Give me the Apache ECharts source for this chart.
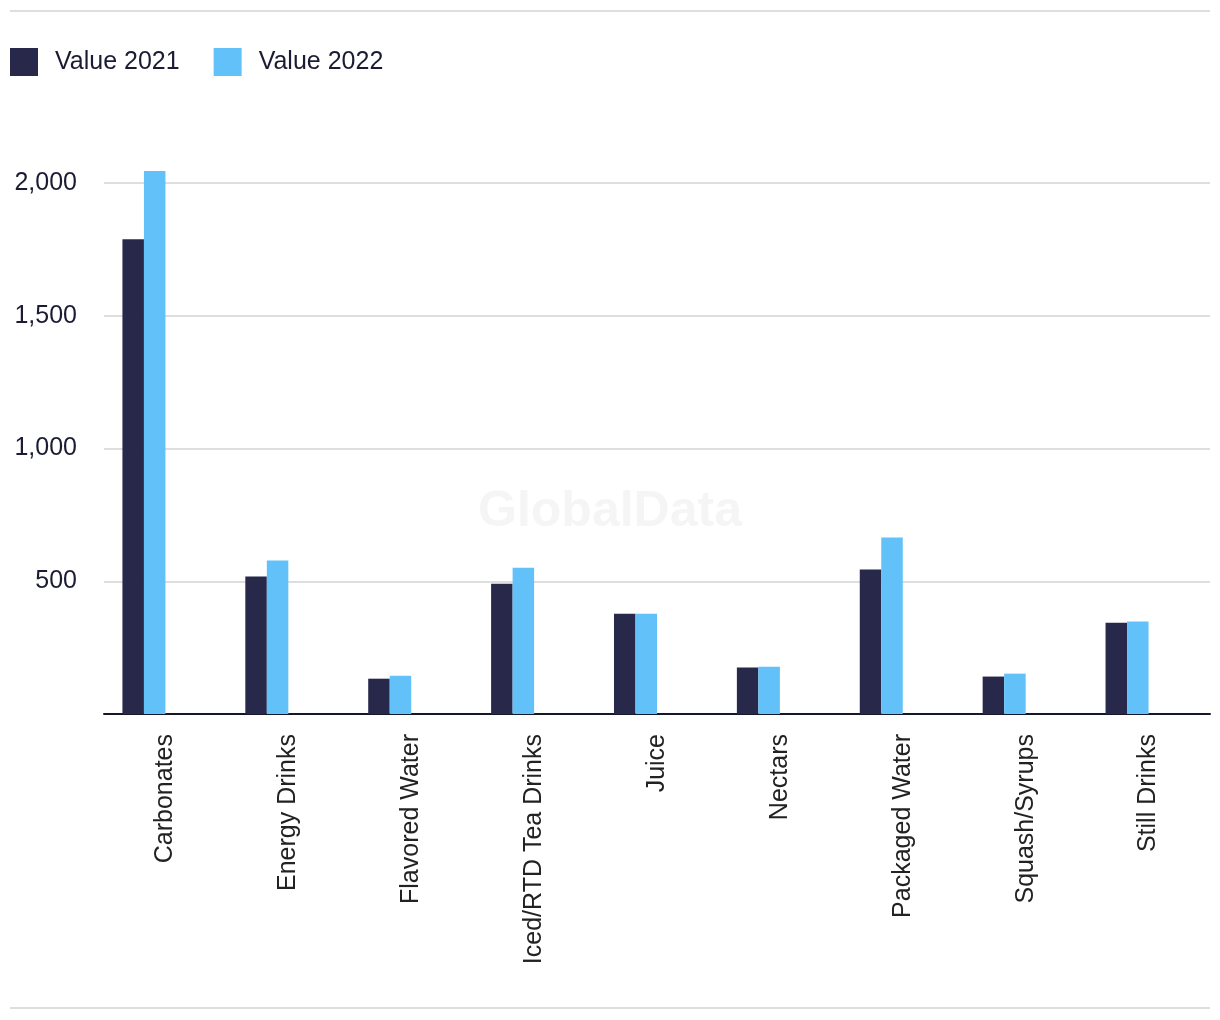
<!DOCTYPE html>
<html>
<head>
<meta charset="utf-8">
<script src="https://cdn.jsdelivr.net/npm/echarts@6/dist/echarts.min.js"></script>
<style>
html,body{margin:0;padding:0;background:#fff;}
#chart{width:1220px;height:1020px;}
</style>
</head>
<body>
<div id="chart"></div>
<script>
const categories = ["Carbonates","Energy Drinks","Flavored Water","Iced/RTD Tea Drinks","Juice","Nectars","Packaged Water","Squash/Syrups","Still Drinks"];
const value2021 = [1788, 518, 133, 491, 378, 175, 544, 141, 344];
const value2022 = [2045, 578, 144, 551, 378, 178, 665, 152, 348];
const placeholder = [];
const yTicks = [0, 500, 1000, 1500, 2000];

const chart = echarts.init(document.getElementById('chart'), null, {renderer:'canvas'});
const FONT = 'Liberation Sans';
chart.setOption({
  animation: false,
  backgroundColor: '#ffffff',
  graphic: [
    {type:'rect', shape:{x:10,y:10,width:1200,height:2}, style:{fill:'#dedede'}},
    {type:'rect', shape:{x:10,y:1007,width:1200,height:2}, style:{fill:'#dedede'}},
    {type:'text', left:'center', top:487, z:-1, style:{text:'GlobalData', font:'bold 50px "Liberation Sans"', fill:'#f5f5f5', x:610}}
  ],
  legend: {
    data: ['Value 2021','Value 2022'],
    left: 10, top: 48, padding: 0,
    itemWidth: 28, itemHeight: 28, itemGap: 34,
    icon: 'rect',
    textStyle: {fontFamily: FONT, fontSize: 25, color: '#1b1c33', padding:[0,0,0,12]}
  },
  grid: {left: 104, right: 10, top: 183, bottom: 306, containLabel: false},
  xAxis: {
    type: 'category',
    data: categories,
    axisLine: {show: true, lineStyle: {color: '#15172b', width: 2}},
    axisTick: {show: false},
    axisLabel: {rotate: 90, margin: 20, fontFamily: FONT, fontSize: 25, color: '#222222'}
  },
  yAxis: {
    type: 'value',
    min: yTicks[0], max: yTicks[yTicks.length-1], interval: 500,
    axisLine: {show: false},
    axisTick: {show: false},
    splitLine: {show: true, lineStyle: {color: '#dedede', width: 2}},
    axisLabel: {margin: 27, fontFamily: FONT, fontSize: 25, color: '#1b1c33',
      formatter: v => v === 0 ? '' : v.toLocaleString('en-US')}
  },
  series: [
    {name:'Value 2021', type:'bar', data:value2021, itemStyle:{color:'#27284a'}, barGap:'0%', barCategoryGap:'30%', clip:false},
    {name:'Value 2022', type:'bar', data:value2022, itemStyle:{color:'#62c1f9'}, clip:false},
    {name:'pad1', type:'bar', data:placeholder},
    {name:'pad2', type:'bar', data:placeholder}
  ]
});
</script>
</body>
</html>
